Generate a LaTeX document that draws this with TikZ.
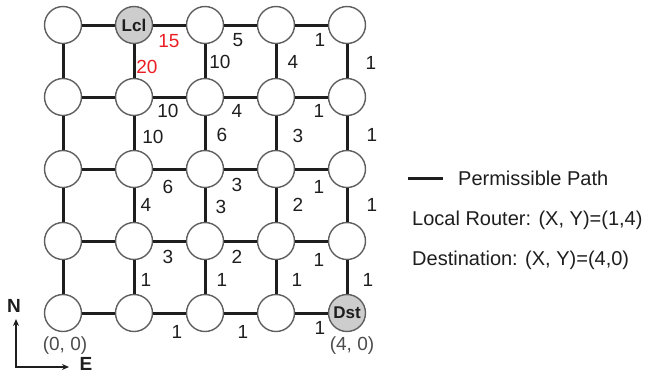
\documentclass[tikz,border=0pt]{standalone}
\usepackage{fontspec}
\setmainfont{Liberation Sans}
\usetikzlibrary{arrows.meta}
\definecolor{ink}{RGB}{30,30,30}
\definecolor{rim}{RGB}{95,95,95}
\definecolor{hotred}{RGB}{235,30,35}
\definecolor{busy}{RGB}{205,205,205}
\tikzset{
  router/.style={circle, draw=rim, line width=1.4pt, fill=white,
                 minimum size=37pt, inner sep=0pt,
                 font=\fontsize{17}{17}\selectfont\bfseries, text=ink},
  endpoint/.style={router, fill=busy},
  link/.style={line width=3pt, draw=ink},
  wt/.style={inner sep=0pt, text=ink, font=\fontsize{19}{19}\selectfont},
  hot/.style={wt, text=hotred},
  coordtext/.style={wt, text=black!70},
  compasstext/.style={wt, font=\fontsize{19}{19}\selectfont\bfseries},
  legendtext/.style={inner sep=0pt, anchor=base west, text=ink,
                     font=\fontsize{20}{20}\selectfont},
  compass/.style={line width=2pt, draw=ink, {Stealth[length=7pt,width=6pt]}-{Stealth[length=7pt,width=6pt]}},
}
\begin{document}
\begin{tikzpicture}[x=1pt,y=-1pt]
\useasboundingbox (0,0) rectangle (649,376);

% 5x5 mesh of routers, column \i = X, row \j = Y
\foreach \i in {0,...,4}{
  \foreach \j in {0,...,4}{
    \ifnum\i\j=14
      \node[endpoint] (n\i\j) at ({63+71*\i},{313-72*\j}) {Lcl};
    \else\ifnum\i\j=40
      \node[endpoint] (n\i\j) at ({63+71*\i},{313-72*\j}) {Dst};
    \else
      \node[router] (n\i\j) at ({63+71*\i},{313-72*\j}) {};
    \fi\fi
  }
}

% horizontal links
\foreach \i/\k in {0/1,1/2,2/3,3/4}{
  \foreach \j in {0,...,4}{
    \draw[link] (n\i\j) -- (n\k\j);
  }
}
% vertical links
\foreach \j/\k in {0/1,1/2,2/3,3/4}{
  \foreach \i in {0,...,4}{
    \draw[link] (n\i\j) -- (n\i\k);
  }
}

% link weights
\node[hot] (w15) at (169,41) {15};
\node[hot] (w20) at (147,67) {20};
\foreach \x/\y/\t in {
  238/40/5, 320/40/1, 371/63/1, 220/62/10, 293/62/4,
  168/111/10, 237/111/4, 319/111/1, 372/135/1,
  153/137/10, 222/135/6, 298/136/3,
  168/187/6, 237/185/3, 319/187/1, 372/205/1,
  146/205/4, 221/207/3, 298/205/2,
  168/257/3, 237/257/2, 319/260/1, 368/280/1,
  146/280/1, 222/280/1, 297/280/1,
  177/332/1, 243/332/1, 320/328/1}{
  \node[wt] at (\x,\y) {\t};
}

% corner coordinates
\node[coordtext] (c00) at (65,346) {(0, 0)};
\node[coordtext] (c40) at (352,346) {(4, 0)};

% compass
\coordinate (ntip) at (16,319);
\coordinate (etip) at (69,367);
\draw[compass] (ntip) |- (etip);
\node[compasstext] (north) at (14,306) {N};
\node[compasstext] (east) at (86,364) {E};

% legend
\coordinate (lgA) at (408,178);
\coordinate (lgB) at (443,178);
\draw[link] (lgA) -- (lgB);
\node[legendtext] (lg1) at (458,185) {Permissible Path};
\node[legendtext] (lg2) at (412,225) {Local Router: (X, Y)=(1,4)};
\node[legendtext] (lg3) at (412,265) {Destination: (X, Y)=(4,0)};
\end{tikzpicture}
\end{document}
